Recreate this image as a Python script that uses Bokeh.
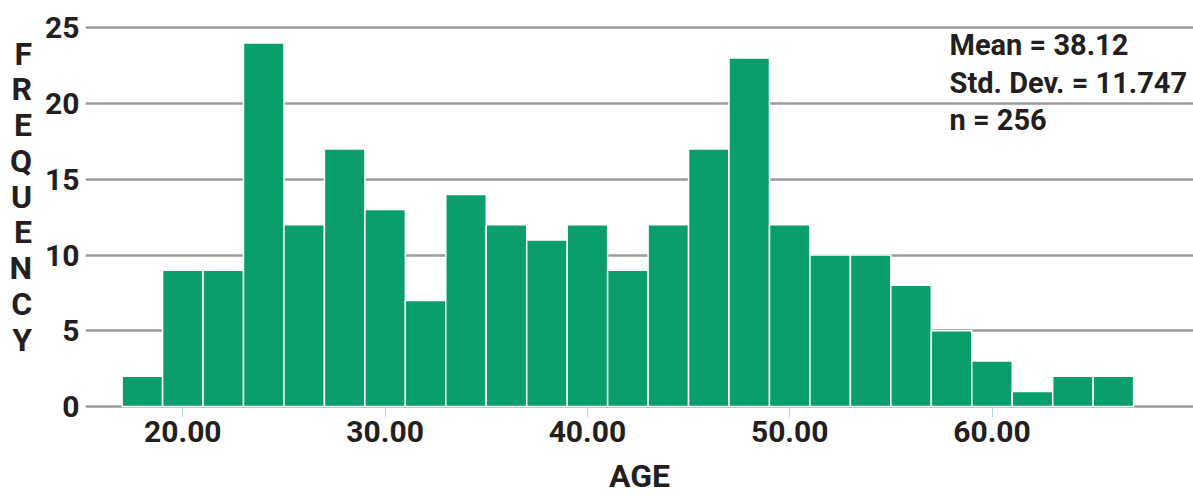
from bokeh.plotting import figure
from bokeh.models import Range1d, FixedTicker, NumeralTickFormatter, Label, ColumnDataSource
from bokeh.embed import file_html
from bokeh.resources import INLINE

# Data: age histogram (bin width 2 years)
bin_left = [17, 19, 21, 23, 25, 27, 29, 31, 33, 35, 37, 39, 41, 43, 45, 47, 49, 51, 53, 55, 57, 59, 61, 63, 65]
bin_right = [19, 21, 23, 25, 27, 29, 31, 33, 35, 37, 39, 41, 43, 45, 47, 49, 51, 53, 55, 57, 59, 61, 63, 65, 67]
counts = [2, 9, 9, 24, 12, 17, 13, 7, 14, 12, 11, 12, 9, 12, 17, 23, 12, 10, 10, 8, 5, 3, 1, 2, 2]
x_ticks = [20, 30, 40, 50, 60]
y_ticks = [0, 5, 10, 15, 20, 25]
mean_txt = "38.12"
sd_txt = "11.747"
n_txt = "256"

FONT = "Roboto"
TXT = "#231f20"
BAR = "#0a9e6d"

p = figure(width=1193, height=497, output_backend="svg", toolbar_location=None,
           x_range=Range1d(15.19, 69.96), y_range=Range1d(-0.13, 25.48),
           min_border_left=85, min_border_right=0, min_border_top=20, min_border_bottom=89)
p.outline_line_color = None
p.background_fill_color = "white"

src = ColumnDataSource(dict(left=bin_left, right=bin_right, top=counts, bottom=[0] * len(counts)))
p.quad(left="left", right="right", top="top", bottom="bottom", source=src,
       fill_color=BAR, line_color="white", line_width=1.5)

# grid
p.xgrid.grid_line_color = None
p.ygrid.ticker = FixedTicker(ticks=y_ticks)
p.ygrid.grid_line_color = "#9b9b9b"
p.ygrid.grid_line_width = 2.5
p.ygrid.level = "underlay"

# x axis
xa = p.xaxis[0]
xa.ticker = FixedTicker(ticks=x_ticks)
xa.formatter = NumeralTickFormatter(format="0.00")
xa.axis_line_color = None
xa.major_tick_line_color = "#a8dcca"
xa.major_tick_line_width = 1
xa.major_tick_in = 0
xa.major_tick_out = 9
xa.minor_tick_line_color = None
xa.major_label_standoff = 3
xa.major_label_text_font = FONT
xa.major_label_text_font_style = "bold"
xa.major_label_text_font_size = "30px"
xa.major_label_text_color = TXT
xa.axis_label = "AGE"
xa.axis_label_text_font = FONT
xa.axis_label_text_font_style = "bold"
xa.axis_label_text_font_size = "32px"
xa.axis_label_text_color = TXT
xa.axis_label_standoff = 12

# y axis
ya = p.yaxis[0]
ya.ticker = FixedTicker(ticks=y_ticks)
ya.axis_line_color = None
ya.major_tick_line_color = None
ya.minor_tick_line_color = None
ya.major_label_standoff = 0
ya.major_label_text_font = FONT
ya.major_label_text_font_style = "bold"
ya.major_label_text_font_size = "30px"
ya.major_label_text_color = TXT
ya.axis_label = "\n".join("FREQUENCY") + "\n "
ya.axis_label_orientation = "horizontal"
ya.axis_label_text_font = FONT
ya.axis_label_text_font_style = "bold"
ya.axis_label_text_font_size = "32px"
ya.axis_label_text_line_height = 0.94
ya.axis_label_text_color = TXT
ya.axis_label_standoff = 10

stats = Label(x=57.9, y=25.0, text="Mean = " + mean_txt + "\nStd. Dev. = " + sd_txt + "\nn = " + n_txt,
              text_font=FONT, text_font_style="bold", text_font_size="29px",
              text_color=TXT, text_baseline="top", text_align="left", text_line_height=1.11)
p.add_layout(stats)

open("out.html", "w").write(file_html(p, INLINE))
